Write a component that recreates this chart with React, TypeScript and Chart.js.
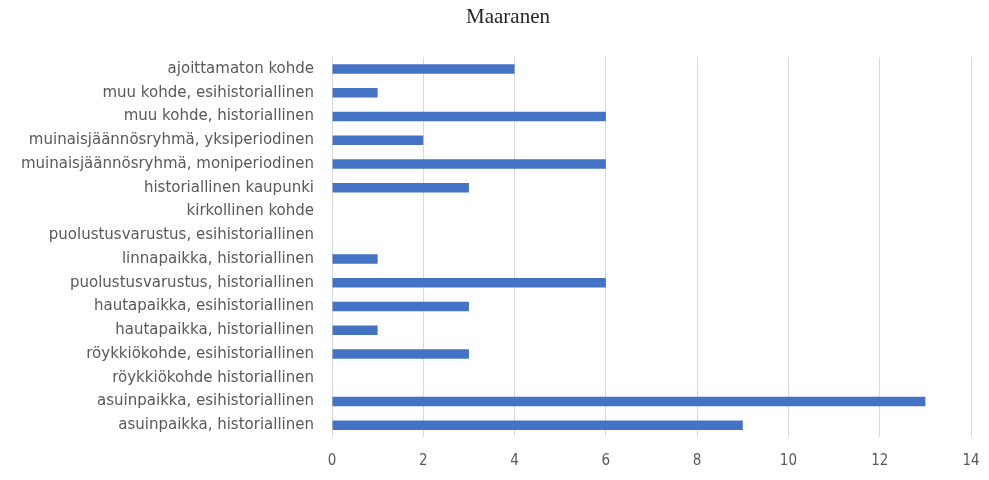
import React, { useEffect, useRef } from "react";
import { Chart, registerables } from "chart.js";

Chart.register(...registerables);

const categories: string[] = [
  "ajoittamaton kohde",
  "muu kohde, esihistoriallinen",
  "muu kohde, historiallinen",
  "muinaisjäännösryhmä, yksiperiodinen",
  "muinaisjäännösryhmä, moniperiodinen",
  "historiallinen kaupunki",
  "kirkollinen kohde",
  "puolustusvarustus, esihistoriallinen",
  "linnapaikka, historiallinen",
  "puolustusvarustus, historiallinen",
  "hautapaikka, esihistoriallinen",
  "hautapaikka, historiallinen",
  "röykkiökohde, esihistoriallinen",
  "röykkiökohde historiallinen",
  "asuinpaikka, esihistoriallinen",
  "asuinpaikka, historiallinen",
];

const counts: number[] = [4, 1, 6, 2, 6, 3, 0, 0, 1, 6, 3, 1, 3, 0, 13, 9];

const xMin = 0;
const xMax = 14;
const xStep = 2;

const title = "Maaranen";

export default function App() {
  const canvasRef = useRef<HTMLCanvasElement | null>(null);

  useEffect(() => {
    const canvas = canvasRef.current;
    if (!canvas) return;
    const chart = new Chart(canvas, {
      type: "bar",
      data: {
        labels: categories,
        datasets: [
          {
            data: counts,
            backgroundColor: "#4472C4",
            borderWidth: 0,
            categoryPercentage: 0.8,
            barPercentage: 0.5,
          },
        ],
      },
      options: {
        indexAxis: "y",
        animation: false,
        responsive: false,
        devicePixelRatio: 1,
        layout: { padding: { left: 0, right: 18, top: 57, bottom: 0 } },
        plugins: {
          legend: { display: false },
          tooltip: { enabled: false },
          title: { display: false },
        },
        scales: {
          x: {
            min: xMin,
            max: xMax,
            ticks: {
              stepSize: xStep,
              color: "#595959",
              padding: 15,
              font: { family: "'DejaVu Sans Condensed', 'DejaVu Sans', sans-serif", size: 15 },
            },
            grid: { color: "#d9d9d9", drawTicks: false, lineWidth: 1 },
            border: { display: false },
            afterFit: (scale: any) => {
              scale.height = 43;
              scale.paddingLeft = 0;
              scale.paddingRight = 0;
            },
          },
          y: {
            ticks: {
              color: "#595959",
              padding: 18,
              autoSkip: false,
              font: { family: "'DejaVu Sans', sans-serif", size: 15 },
            },
            grid: { display: false, drawTicks: false },
            border: { display: false },
            afterFit: (scale: any) => {
              scale.width = 332;
            },
          },
        },
      },
    });
    return () => chart.destroy();
  }, []);

  return (
    <div style={{ position: "fixed", left: 0, top: 0, width: 989, height: 480, background: "#fff" }}>
      <canvas ref={canvasRef} width={989} height={480} />
      <div
        style={{
          position: "absolute",
          left: 408,
          width: 200,
          top: 4,
          textAlign: "center",
          fontFamily: "'Liberation Serif', 'DejaVu Serif', serif",
          fontSize: 21,
          lineHeight: "24px",
          color: "#262626",
        }}
      >
        {title}
      </div>
    </div>
  );
}
